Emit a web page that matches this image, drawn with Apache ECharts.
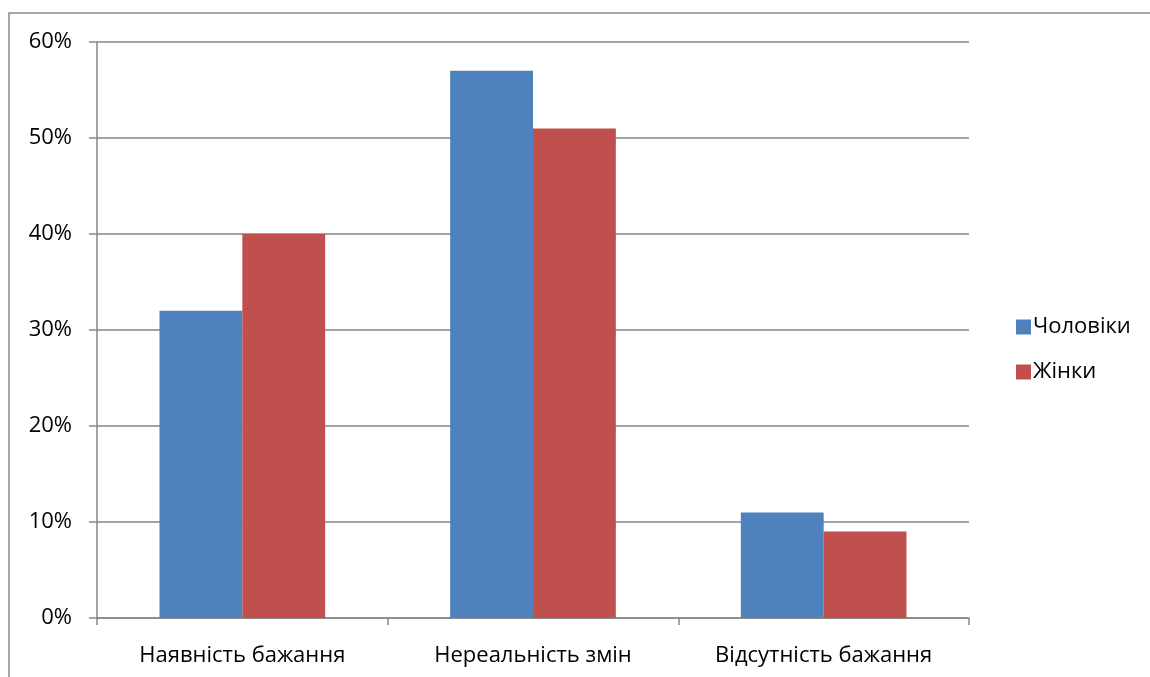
<!DOCTYPE html>
<html>
<head>
<meta charset="utf-8">
<style>
  html, body { margin: 0; padding: 0; background: #fff; }
  #chart { width: 1150px; height: 677px; }
</style>
<script src="https://cdn.jsdelivr.net/npm/echarts@6/dist/echarts.min.js"></script>
</head>
<body>
<div id="chart"></div>
<script>
// Survey answers by group, shares in percent
const categories = ['Наявність бажання', 'Нереальність змін', 'Відсутність бажання'];
const men = [32, 57, 11];
const women = [40, 51, 9];
const seriesNames = ['Чоловіки', 'Жінки'];

const FONT = '"Open Sans", "Noto Sans", sans-serif';
const chart = echarts.init(document.getElementById('chart'), null, { renderer: 'canvas' });

chart.setOption({
  animation: false,
  backgroundColor: '#fff',
  graphic: [{
    type: 'rect',
    shape: { x: 9, y: 13, width: 1200, height: 700 },
    style: { fill: 'none', stroke: '#8c8c8c', lineWidth: 1.5 },
    silent: true
  }],
  grid: { left: 97, right: 181, top: 42, bottom: 59, containLabel: false },
  legend: {
    orient: 'vertical',
    left: 1011,
    top: 311,
    itemWidth: 15,
    itemHeight: 15,
    itemGap: 23,
    icon: 'rect',
    textStyle: { fontFamily: FONT, fontSize: 22, color: '#000', padding: [0, 0, 0, -3] },
    data: seriesNames
  },
  xAxis: {
    type: 'category',
    data: categories,
    axisLine: { lineStyle: { color: '#868686', width: 1.5 } },
    axisTick: { show: true, length: 7, lineStyle: { color: '#868686', width: 1.5 } },
    axisLabel: { fontFamily: FONT, fontSize: 22, color: '#000', margin: 27 }
  },
  yAxis: {
    type: 'value',
    min: 0,
    max: 60,
    interval: 10,
    axisLine: { show: true, lineStyle: { color: '#868686', width: 1.5 } },
    axisTick: { show: true, length: 8, lineStyle: { color: '#868686', width: 1.5 } },
    splitLine: { lineStyle: { color: '#868686', width: 1.5 } },
    axisLabel: { fontFamily: FONT, fontSize: 22, color: '#000', margin: 25, formatter: '{value}%' }
  },
  series: [
    {
      name: seriesNames[0],
      type: 'bar',
      data: men,
      barGap: '0%',
      barCategoryGap: '43%',
      itemStyle: { color: '#4F81BD' }
    },
    {
      name: seriesNames[1],
      type: 'bar',
      data: women,
      barGap: '0%',
      barCategoryGap: '43%',
      itemStyle: { color: '#C0504D' }
    }
  ]
});
</script>
</body>
</html>
